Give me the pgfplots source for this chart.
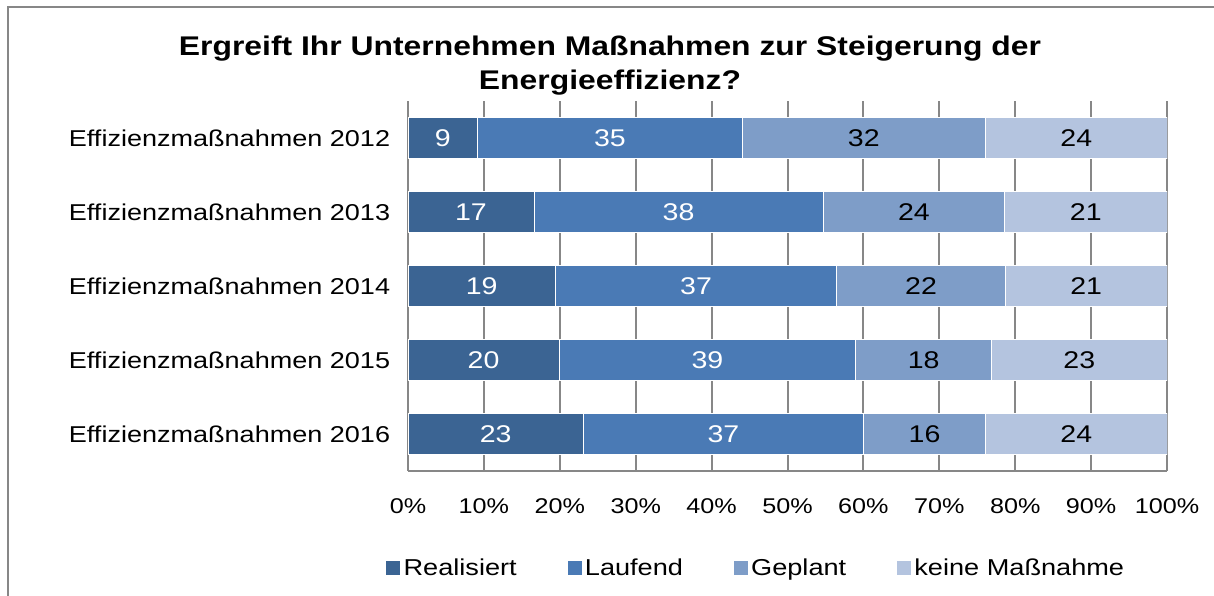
\documentclass[border=0pt]{standalone}
\usepackage{fontspec}
\setmainfont{Liberation Sans}[FakeStretch=1.18]
\usepackage{pgfplots}
\pgfplotsset{compat=1.18}
\definecolor{cA}{HTML}{3B6493}
\definecolor{cB}{HTML}{4A7AB5}
\definecolor{cC}{HTML}{7E9DC8}
\definecolor{cD}{HTML}{B4C4DF}
\definecolor{gridgray}{HTML}{878787}
\pgfplotsset{sqleg/.style={legend image code/.code={\path[##1,draw=none] (0pt,-4.2pt) rectangle (8.4pt,4.2pt);}}}
\begin{document}
\begin{tikzpicture}
\useasboundingbox (0,0) rectangle (728.4pt,-357.6pt);
\draw[color=gridgray, line width=1.2pt] (4.8pt,-360pt) -- (4.8pt,-4.2pt) -- (732pt,-4.2pt);
\node[font=\fontsize{16.2}{20.6}\selectfont\bfseries, align=center] at (366pt,-39.3pt)
  {Ergreift Ihr Unternehmen Maßnahmen zur Steigerung der\\Energieeffizienz?};
\begin{axis}[
  at={(244.8pt,-282.6pt)}, anchor=south west,
  scale only axis, width=455.4pt, height=222pt,
  xbar stacked, bar width=24.6pt,
  xmin=0, xmax=100, ymin=-0.5, ymax=4.5, y dir=reverse,
  ytick={0,1,2,3,4},
  yticklabels={Effizienzmaßnahmen 2012,Effizienzmaßnahmen 2013,Effizienzmaßnahmen 2014,Effizienzmaßnahmen 2015,Effizienzmaßnahmen 2016},
  xtick={0,10,...,100},
  xticklabel={\pgfmathprintnumber{\tick}\%},
  /pgf/number format/assume math mode=true,
  axis x line*=bottom, axis y line*=left,
  axis line style={gridgray, line width=1.2pt},
  xmajorgrids, major grid style={gridgray, line width=1.2pt},
  major tick length=0pt,
  yticklabel style={font=\fontsize{13.75}{16}\selectfont, xshift=-7.2pt},
  xticklabel style={font=\fontsize{12.8}{15}\selectfont, yshift=-13pt},
  legend columns=-1,
  legend style={at={(axis description cs:-0.029,-0.262)}, anchor=west, draw=none, fill=none,
    font=\fontsize{13.8}{16}\selectfont, inner sep=0pt,
    /tikz/every even column/.append style={column sep=28.5pt}},
]
\addplot[fill=cA, draw=white, line width=0.5pt, sqleg] coordinates {(9.2,0) (16.6,1) (19.4,2) (19.9,3) (23.1,4)};
\addplot[fill=cB, draw=white, line width=0.5pt, sqleg] coordinates {(34.8,0) (38.1,1) (37.1,2) (39.1,3) (36.9,4)};
\addplot[fill=cC, draw=white, line width=0.5pt, sqleg] coordinates {(32.1,0) (23.9,1) (22.2,2) (17.9,3) (16.1,4)};
\addplot[fill=cD, draw=white, line width=0.5pt, sqleg] coordinates {(23.9,0) (21.4,1) (21.3,2) (23.1,3) (23.9,4)};
\legend{Realisiert,Laufend,Geplant,keine Maßnahme}
\end{axis}
\begin{axis}[
  at={(244.8pt,-282.6pt)}, anchor=south west,
  scale only axis, width=455.4pt, height=222pt,
  xmin=0, xmax=100, ymin=-0.5, ymax=4.5, y dir=reverse,
  hide axis, clip=false,
  nodes near coords, point meta=explicit symbolic,
  every node near coord/.style={anchor=center, font=\fontsize{14.5}{16}\selectfont},
]
\addplot[draw=none, mark=none, every node near coord/.append style={text=white}] coordinates {
  (4.6,0)[9] (8.3,1)[17] (9.7,2)[19] (9.95,3)[20] (11.55,4)[23]
  (26.6,0)[35] (35.65,1)[38] (37.95,2)[37] (39.45,3)[39] (41.55,4)[37]};
\addplot[draw=none, mark=none, every node near coord/.append style={text=black}] coordinates {
  (60.05,0)[32] (66.65,1)[24] (67.6,2)[22] (67.95,3)[18] (68.05,4)[16]
  (88.05,0)[24] (89.3,1)[21] (89.35,2)[21] (88.45,3)[23] (88.05,4)[24]};
\end{axis}
\end{tikzpicture}
\end{document}
